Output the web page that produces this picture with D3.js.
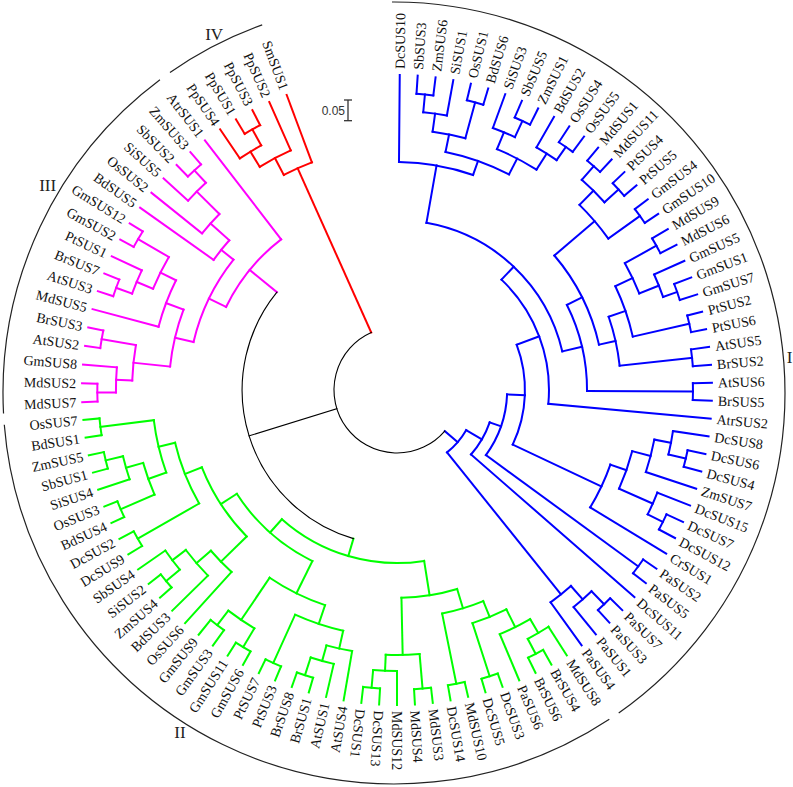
<!DOCTYPE html>
<html><head><meta charset="utf-8">
<script src="https://cdn.jsdelivr.net/npm/d3@7"></script>
<style>
html,body{margin:0;padding:0;background:#fff;}
svg{display:block;}
</style></head>
<body>
<svg id="chart" width="793" height="787"></svg>
<script>
// ================= DATA =================
// Newick topology per clade. The number after each ")" is that node's
// distance from the root (substitutions per site). Tips are aligned.
const cladeNames  = ["I", "II", "III", "IV"];
const cladeColors = ["#0000ff", "#00ff00", "#ff00ff", "#ff0000"];
const tipDepth = 0.609;          // depth at which all tips are drawn
const depthII_III = 0.222;       // node joining clades II and III
const scaleBarValue = 0.05;
const scaleBarLabel = "0.05";

// ---- clade I ----
const grassA = "(((SbSUS3,ZmSUS6):0.565,SiSUS1):0.522,(OsSUS1,BdSUS6):0.568):0.478";
const grassB = "((SiSUS3,(SbSUS5,ZmSUS1):0.565):0.522,(BdSUS2,(OsSUS4,OsSUS5):0.563):0.524):0.478";
const subE   = `(DcSUS10,(${grassA},${grassB}):0.435):0.399`;
const subN260 = "(((MdSUS1,MdSUS11):0.568,(PtSUS4,PtSUS5):0.570):0.524,(GmSUS4,GmSUS10):0.570):0.476";
const subZ   = "((MdSUS9,MdSUS6):0.565,(GmSUS5,(GmSUS1,GmSUS7):0.565):0.529):0.478";
const subN224 = `((${subZ},(PtSUS2,PtSUS6):0.572):0.432,(AtSUS5,BrSUS2):0.565):0.389`;
const subN190 = `((${subN260},${subN224}):0.348,(AtSUS6,BrSUS5):0.563):0.307`;
const subG   = `((${subE},${subN190}):0.258,AtrSUS2):0.215`;
const subF   = "((((DcSUS8,(DcSUS6,DcSUS4):0.565):0.522,ZmSUS7):0.481,(DcSUS15,(DcSUS7,DcSUS12):0.565):0.524):0.435,CrSUS1):0.394";
const subPa  = "(((PaSUS7,PaSUS3):0.568,PaSUS1):0.524,PaSUS4):0.481";
const cladeI = `((((${subG},${subF}):0.157,(PaSUS2,PaSUS5):0.570):0.114,DcSUS11):0.085,${subPa}):0.041`;

// ---- clade II ----
const n245b = "(((MdSUS8,(BrSUS4,BrSUS6):0.568):0.527,PaSUS6):0.488,(DcSUS3,DcSUS5):0.575):0.440";
const n228b = `(${n245b},(MdSUS10,DcSUS14):0.572):0.399`;
const n265b = "((MdSUS3,MdSUS4):0.572,(MdSUS12,(DcSUS13,DcSUS1):0.570):0.527):0.488";
const subP  = "((AtSUS4,(AtSUS1,(BrSUS1,BrSUS8):0.572):0.527):0.488,(PtSUS3,PtSUS7):0.572):0.444";
const subGm = "((GmSUS6,GmSUS11):0.572,(GmSUS3,GmSUS9):0.563):0.519";
const n246  = "(OsSUS6,(BdSUS3,((ZmSUS4,SiSUS2):0.572,SbSUS4):0.529):0.488):0.442";
const subM1 = "(((BdSUS4,OsSUS3):0.575,(SiSUS4,(SbSUS1,ZmSUS5):0.572):0.529):0.486,(BdSUS1,OsSUS7):0.570):0.440";
const n228  = `((DcSUS9,DcSUS2):0.570,${subM1}):0.399`;
const cladeII = `((${n228b},${n265b}):0.350,((${subP},${subGm}):0.396,(${n246},${n228}):0.355):0.309):0.266`;

// ---- clade III ----
const subA3 = "(((MdSUS7,MdSUS2):0.572,GmSUS8):0.527,(AtSUS2,BrSUS3):0.572):0.488";
const subB3 = "(MdSUS5,(((AtSUS3,BrSUS7):0.570,PtSUS1):0.529,(GmSUS2,GmSUS12):0.572):0.486):0.444";
const subMono = "(BdSUS5,(OsSUS2,(SiSUS5,(SbSUS2,ZmSUS3):0.570):0.529):0.452):0.391";
const cladeIII = `(((${subA3},${subB3}):0.399,${subMono}):0.353,AtrSUS1):0.307`;

// ---- clade IV ----
const cladeIV = "(((PpSUS4,(PpSUS1,PpSUS3):0.568):0.524,PpSUS2):0.481,SmSUS1):0.435";

// ================= LAYOUT =================
const W = 793, H = 787, cx = 397, cy = 390;
const rInner = 63, rTip = 315, rLabel = 321;
const bcx = 394, bcy = 393, rBracket = 391;          // clade bracket circle
// leaf-index -> angle (degrees clockwise from 12 o'clock)
const leafIdxAnchors = [0, 29, 55, 82, 103];
const leafAngAnchors = [0.5, 95.2, 180.0, 267.8, 339.5];
const flipFrom = 189, flipTo = 360;
const romanPos = [[85.2, 394], [212.4, 405], [300.4, 405], [332.8, 400]];

function parseNewick(str) {
  const s = str.replace(/\s+/g, "");
  let i = 0;
  function node() {
    const n = {};
    if (s[i] === "(") {
      i++; n.children = [];
      for (;;) {
        n.children.push(node());
        if (s[i] === ",") { i++; continue; }
        if (s[i] === ")") { i++; break; }
        throw new Error("newick parse error at " + i);
      }
    }
    let name = "";
    while (i < s.length && !",():;".includes(s[i])) name += s[i++];
    n.name = name;
    if (s[i] === ":") {
      i++; let num = "";
      while (i < s.length && !",();".includes(s[i])) num += s[i++];
      n.depth = +num;
    }
    return n;
  }
  return node();
}

const subtrees = [cladeI, cladeII, cladeIII, cladeIV].map((t, k) => {
  const o = parseNewick(t); o.clade = k; return o;
});
const rootData = {
  name: "", depth: 0,
  children: [subtrees[0], { name: "", depth: depthII_III, children: [subtrees[1], subtrees[2]] }, subtrees[3]]
};

const root = d3.hierarchy(rootData);
root.each(n => {
  n.clade = n.data.clade !== undefined ? n.data.clade : (n.parent ? n.parent.clade : undefined);
  n.depthVal = n.children ? n.data.depth : tipDepth;
});
d3.cluster().size([1, 1]).separation(() => 1)(root);
const leaves = root.leaves();
leaves.forEach((l, i) => l.idx = i);
const angle = d3.scaleLinear().domain(leafIdxAnchors).range(leafAngAnchors);
const rScale = d3.scaleLinear().domain([0, tipDepth]).range([rInner, rTip]);

root.eachAfter(n => {
  n.ang = n.children ? d3.mean(n.children, c => c.ang) : angle(n.idx);
  n.rad = rScale(n.depthVal);
});

const color = n => n.clade === undefined ? "#000" : cladeColors[n.clade];
const sw = n => n.clade === undefined ? 1.1 : 2;
const toRad = d => (d - 90) * Math.PI / 180;
const pt = (a, r, ox = cx, oy = cy) => [ox + r * Math.cos(toRad(a)), oy + r * Math.sin(toRad(a))];

const svg = d3.select("#chart");
svg.append("rect").attr("width", W).attr("height", H).attr("fill", "#fff");
const gTree = svg.append("g").attr("fill", "none").attr("stroke-linecap", "square");

// radial branches
root.descendants().filter(n => n.parent).forEach(n => {
  const p = d3.path();
  const a = pt(n.ang, n.parent.rad), b = pt(n.ang, n.rad);
  p.moveTo(a[0], a[1]); p.lineTo(b[0], b[1]);
  gTree.append("path").attr("d", p.toString()).attr("stroke", color(n)).attr("stroke-width", sw(n));
});
// node arcs
root.descendants().filter(n => n.children).forEach(n => {
  const a0 = n.children[0].ang, a1 = n.children[n.children.length - 1].ang;
  const p = d3.path();
  const s = pt(a0, n.rad);
  p.moveTo(s[0], s[1]);
  p.arc(cx, cy, n.rad, toRad(a0), toRad(a1), false);
  gTree.append("path").attr("d", p.toString()).attr("stroke", color(n)).attr("stroke-width", sw(n));
});

// leaf labels
const gLab = svg.append("g").attr("font-family", "'Liberation Serif','Times New Roman',serif")
  .attr("font-size", 14).attr("fill", "#111");
leaves.forEach(n => {
  const flip = n.ang > flipFrom && n.ang < flipTo;
  gLab.append("text")
    .attr("transform", `translate(${cx},${cy}) rotate(${n.ang - 90}) translate(${rLabel},0)` + (flip ? " rotate(180)" : ""))
    .attr("text-anchor", flip ? "end" : "start")
    .attr("dy", "0.35em")
    .text(n.data.name);
});

// clade brackets
const gBr = svg.append("g").attr("fill", "none").attr("stroke", "#222").attr("stroke-width", 1.2);
subtrees.forEach((t, k) => {
  const node = root.descendants().find(n => n.data === t);
  const ls = node.leaves();
  const a0 = ls[0].ang - 0.8, a1 = ls[ls.length - 1].ang + 0.8;
  const p = d3.path();
  const s = pt(a0, rBracket, bcx, bcy);
  p.moveTo(s[0], s[1]);
  p.arc(bcx, bcy, rBracket, toRad(a0), toRad(a1), false);
  gBr.append("path").attr("d", p.toString());
});
const gRom = svg.append("g").attr("font-family", "'Liberation Serif','Times New Roman',serif")
  .attr("font-size", 17).attr("fill", "#222").attr("text-anchor", "middle");
cladeNames.forEach((nm, k) => {
  const q = pt(romanPos[k][0], romanPos[k][1]);
  gRom.append("text").attr("x", q[0]).attr("y", q[1]).attr("dy", "0.35em").text(nm);
});

// scale bar
const barLen = rScale(scaleBarValue) - rScale(0);
const bx = 348, by = 100;
const gSc = svg.append("g").attr("stroke", "#333").attr("stroke-width", 1.3);
gSc.append("line").attr("x1", bx).attr("x2", bx).attr("y1", by).attr("y2", by + barLen);
gSc.append("line").attr("x1", bx - 4).attr("x2", bx + 4).attr("y1", by).attr("y2", by);
gSc.append("line").attr("x1", bx - 4).attr("x2", bx + 4).attr("y1", by + barLen).attr("y2", by + barLen);
svg.append("text").attr("x", bx - 3).attr("y", by + barLen / 2).attr("dy", "0.35em")
  .attr("text-anchor", "end").attr("font-family", "'Liberation Sans',Arial,sans-serif")
  .attr("font-size", 12).attr("fill", "#333").text(scaleBarLabel);
</script>
</body></html>
